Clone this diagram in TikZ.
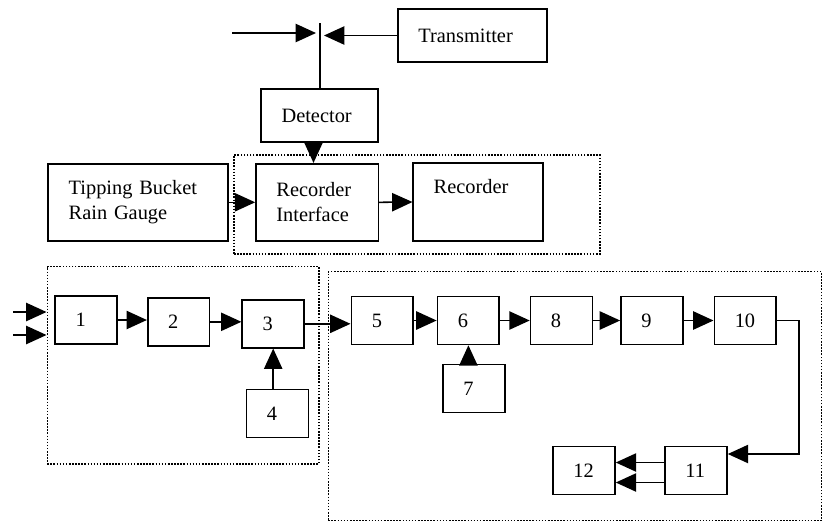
\documentclass[tikz,border=0pt]{standalone}
\usepackage{fontspec}
\setmainfont{Liberation Serif}
\usetikzlibrary{positioning,fit,arrows.meta,calc}
\tikzset{
  blockbox/.style={draw, line width=1.2pt, inner xsep=14.5pt, inner ysep=0pt,
    align=left, font=\fontsize{14.5}{17.5}\selectfont},
  numbox/.style={blockbox, text width=15pt, minimum height=34pt},
  groupbox/.style={draw, line width=1.1pt, dash pattern=on 1.1pt off 1.1pt,
    inner sep=0pt},
  flow/.style={-{Triangle[length=14.5pt, width=13pt]}, line width=1.1pt},
  wire/.style={line width=1.1pt},
}
\begin{document}
\begin{tikzpicture}[x=0.025cm, y=-0.025cm]
\useasboundingbox (0,0) rectangle (828,522);
% dotted groups
\node[groupbox, fit={(234,155) (600,254)}] (grpRec) {};
\node[groupbox, fit={(47.3,266.7) (319,464)}] (grpA) {};
\node[groupbox, fit={(328.3,271.7) (821.5,520.7)}] (grpB) {};
% recording chain
\node[blockbox, text width=77pt, minimum height=37.7pt] (tx) at (472.5,35.5) {Transmitter};
\node[blockbox, text width=54pt, minimum height=37.3pt] (det) at (319.5,115.5) {Detector};
\node[blockbox, text width=99pt, minimum height=54.8pt] (tb) at (138.3,202.3) {Tipping Bucket\\Rain Gauge};
\node[blockbox, text width=58pt, minimum height=54.8pt] (ri) at (317.2,202.3) {Recorder\\Interface};
\node[blockbox, text width=63pt, minimum height=55pt] (rec) at (478,202) {Recorder\\\strut};
\coordinate (rx) at (320,33);
\coordinate (rtop) at (320,23);
\coordinate (rfar) at (232,33);
\draw[wire] (det.north -| rx) -- (rtop);
\draw[flow] (rfar) -- ($(rx)+(-4,0)$);
\draw[flow] (tx.west) -- ($(tx.west -| rx)+(4,0)$);
\draw[flow] ($(det.south)+(-6,0)$) -- ($(det.south |- ri.north)+(-6,0)$);
\draw[flow] (tb.east) -- (ri.west);
\draw[flow] (ri.east) -- (rec.west);
% numbered stages
\node[numbox] (b1) at (86.2,320) {1};
\node[numbox] (b2) at (178.7,321.8) {2};
\node[numbox] (b3) at (273.2,323.8) {3};
\node[numbox] (b4) at (277.5,413.5) {4};
\node[numbox] (b5) at (382.3,320.5) {5};
\node[numbox] (b6) at (468.4,320.5) {6};
\node[numbox] (b7) at (473.9,388.5) {7};
\node[numbox] (b8) at (561.5,320.5) {8};
\node[numbox] (b9) at (651.9,320.5) {9};
\node[numbox] (b10) at (745.3,320.5) {10};
\node[numbox] (b11) at (696,470.5) {11};
\node[numbox] (b12) at (584,470.5) {12};
\coordinate (in1) at (13,312);
\coordinate (in2) at (13,335);
\draw[flow] (in1) -- (in1 -| grpA.west);
\draw[flow] (in2) -- (in2 -| grpA.west);
\draw[flow] (b1.east) -- (b1.east -| b2.west);
\draw[flow] (b2.east) -- (b2.east -| b3.west);
\draw[flow] (b3.east) -- (b3.east -| b5.west);
\draw[flow] (b3.south |- b4.north) -- (b3.south);
\draw[flow] (b5.east) -- (b6.west);
\draw[flow] (b6.south |- b7.north) -- (b6.south);
\draw[flow] (b6.east) -- (b8.west);
\draw[flow] (b8.east) -- (b9.west);
\draw[flow] (b9.east) -- (b10.west);
\coordinate (bend) at (799,454);
\draw[flow] (b10.east) -| (bend) -- (bend -| b11.east);
\draw[flow] ($(b11.west)+(0,-8)$) -- ($(b11.west -| b12.east)+(0,-8)$);
\draw[flow] ($(b11.west)+(0,12)$) -- ($(b11.west -| b12.east)+(0,12)$);
\end{tikzpicture}
\end{document}
